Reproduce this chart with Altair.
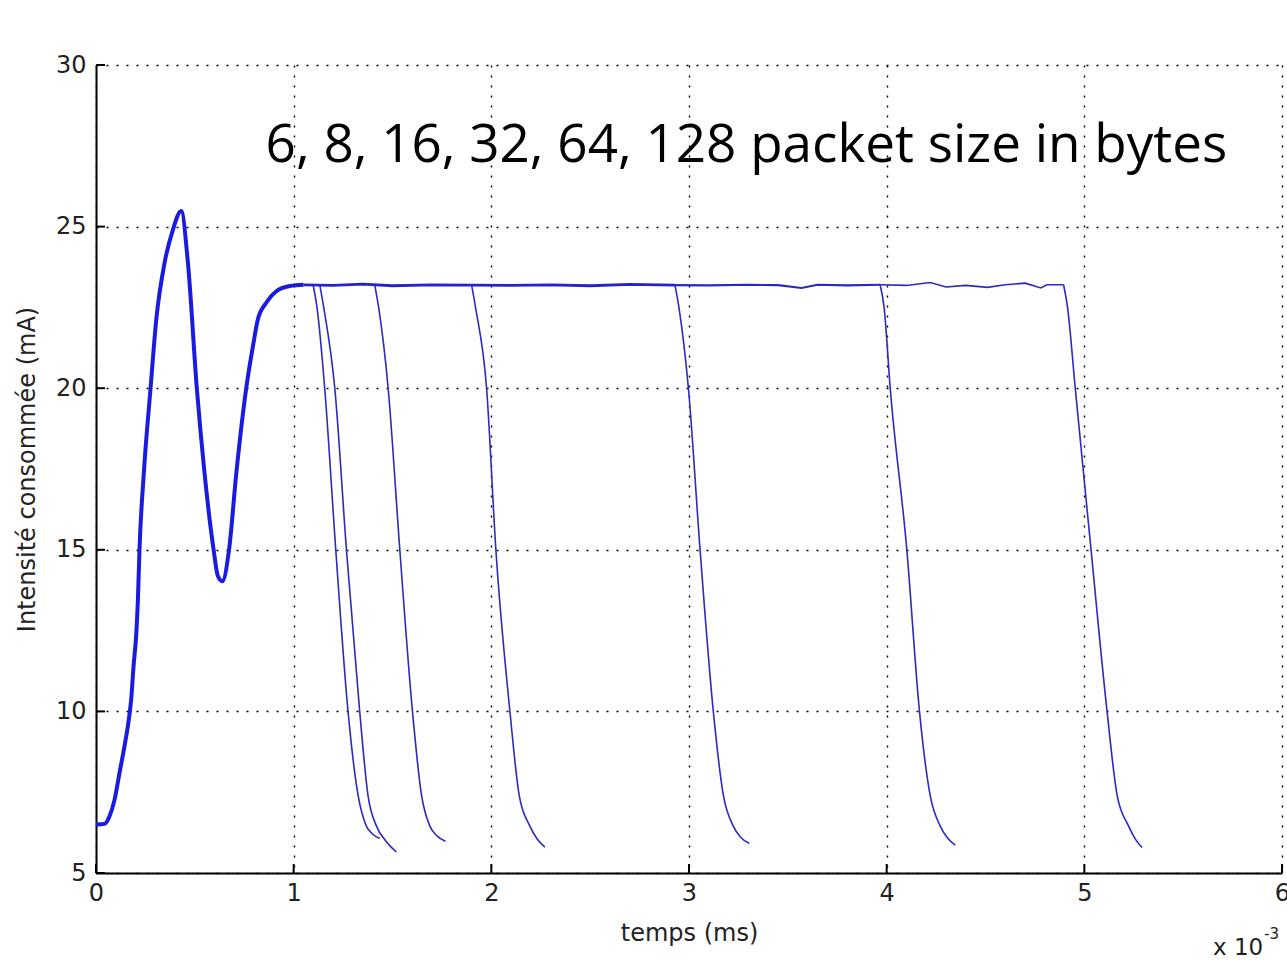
import altair as alt
import pandas as pd

# ---- data (time in ms, current in mA) ----
rise_t = [0.000, 0.043, 0.068, 0.094, 0.119, 0.144, 0.166, 0.178, 0.190, 0.204,
          0.212, 0.220, 0.242, 0.276, 0.305, 0.347, 0.389, 0.431, 0.465, 0.510,
          0.549, 0.595, 0.617, 0.639, 0.673, 0.710, 0.760, 0.794, 0.819, 0.862,
          0.912, 0.980, 1.050]
rise_i = [6.50, 6.52, 6.75, 7.27, 8.10, 8.92, 9.75, 10.37, 11.40, 12.43,
          13.46, 15.00, 17.38, 20.00, 22.13, 23.88, 24.90, 25.48, 23.88, 20.00,
          17.38, 15.00, 14.18, 14.03, 15.00, 17.38, 20.00, 21.30, 22.13, 22.65,
          23.00, 23.16, 23.20]

plateau_t = [1.05, 1.20, 1.35, 1.50, 1.70, 1.90, 2.10, 2.30, 2.50, 2.70, 2.93,
             3.10, 3.30, 3.45, 3.57, 3.65, 3.80, 3.97,
             4.10, 4.22, 4.30, 4.40, 4.51, 4.60, 4.70, 4.78, 4.81, 4.895]
plateau_i = [23.20, 23.18, 23.22, 23.17, 23.20, 23.19, 23.18, 23.20, 23.17, 23.21, 23.19,
             23.18, 23.20, 23.19, 23.10, 23.20, 23.18, 23.20,
             23.18, 23.27, 23.13, 23.18, 23.12, 23.20, 23.25, 23.10, 23.20, 23.20]
plateau_breaks = [2.93, 3.97]

drop_names = ["c1", "c2", "c3", "c4", "c5", "c6", "c7"]
drop_t = [
    [1.098, 1.118, 1.157, 1.213, 1.275, 1.326, 1.368, 1.400, 1.435],
    [1.132, 1.152, 1.208, 1.267, 1.334, 1.376, 1.419, 1.465, 1.520],
    [1.410, 1.430, 1.478, 1.537, 1.601, 1.647, 1.689, 1.725, 1.768],
    [1.900, 1.920, 1.976, 2.023, 2.094, 2.141, 2.195, 2.232, 2.271],
    [2.929, 2.949, 2.997, 3.056, 3.123, 3.174, 3.224, 3.262, 3.305],
    [3.967, 3.987, 4.018, 4.102, 4.166, 4.220, 4.271, 4.308, 4.347],
    [4.895, 4.915, 4.954, 5.034, 5.115, 5.166, 5.224, 5.258, 5.292],
]
drop_i = [
    [23.2, 22.5, 20.0, 15.0, 10.0, 7.4, 6.45, 6.20, 6.07],
    [23.2, 22.5, 20.0, 15.0, 10.0, 7.4, 6.45, 6.00, 5.65],
    [23.2, 22.5, 20.0, 15.0, 10.0, 7.4, 6.45, 6.15, 5.98],
    [23.2, 22.5, 20.0, 15.0, 10.0, 7.4, 6.45, 6.05, 5.80],
    [23.2, 22.5, 20.0, 15.0, 10.0, 7.4, 6.45, 6.10, 5.92],
    [23.2, 22.5, 20.0, 15.0, 10.0, 7.4, 6.45, 6.08, 5.86],
    [23.2, 22.5, 20.0, 15.0, 10.0, 7.4, 6.45, 6.05, 5.79],
]

x_ticks = [0, 1, 2, 3, 4, 5, 6]
y_ticks = [5, 10, 15, 20, 25, 30]
annotation = "6, 8, 16, 32, 64, 128 packet size in bytes"
annotation_t = [0.858]
annotation_i = [26.99]
x_title = "temps (ms)"
y_title = "Intensité consommée (mA)"
exponent_base = "x 10"
exponent_power = "-3"

# ---- build tables ----
rows = []
for t, i in zip(rise_t, rise_i):
    rows.append({"t": t, "I": i, "series": "rise", "kind": "rise"})
seg_edges = [plateau_t[0]] + plateau_breaks + [plateau_t[-1]]
for s in range(len(seg_edges) - 1):
    lo, hi = seg_edges[s], seg_edges[s + 1]
    for t, i in zip(plateau_t, plateau_i):
        if lo <= t <= hi:
            rows.append({"t": t, "I": i, "series": f"p{s}", "kind": f"p{s}"})
for name, ts, vs in zip(drop_names, drop_t, drop_i):
    for t, i in zip(ts, vs):
        rows.append({"t": t, "I": i, "series": name, "kind": "drop"})
lines = pd.DataFrame(rows)

W, H = 1186, 808
xs = alt.Scale(domain=[0, 6], nice=False, zero=False)
ys = alt.Scale(domain=[5, 30], nice=False, zero=False)

axis_font = "DejaVu Sans"
x_axis = alt.Axis(values=x_ticks, format="d", grid=True, gridDash=[2, 8], gridColor="black",
                  gridWidth=1.4, gridOpacity=1, ticks=False, domainColor="black",
                  domainWidth=2, labelFont=axis_font, labelFontSize=24,
                  labelColor="#222222", labelPadding=8, labelFlush=False,
                  title=x_title, titleFont=axis_font, titleFontSize=24,
                  titleFontWeight="normal", titleColor="#222222", titlePadding=16)
y_axis = alt.Axis(values=y_ticks, format="d", grid=True, gridDash=[2, 8], gridColor="black",
                  gridWidth=1.4, gridOpacity=1, ticks=False, domainColor="black",
                  domainWidth=2, labelFont=axis_font, labelFontSize=24,
                  labelColor="#222222", labelPadding=10, labelFlush=False,
                  title=y_title, titleFont=axis_font, titleFontSize=24,
                  titleFontWeight="normal", titleColor="#222222", titlePadding=16)

base = alt.Chart(lines)
enc = dict(x=alt.X("t:Q", scale=xs, axis=x_axis),
           y=alt.Y("I:Q", scale=ys, axis=y_axis),
           detail="series:N", order="t:Q")

drops = base.transform_filter(alt.datum.kind == "drop").mark_line(
    color="#2b2bbd", strokeWidth=1.6, interpolate="monotone").encode(**enc)
p0 = base.transform_filter(alt.datum.kind == "p0").mark_line(
    color="#2424cc", strokeWidth=2.8).encode(**enc)
p1 = base.transform_filter(alt.datum.kind == "p1").mark_line(
    color="#2828c4", strokeWidth=2.1).encode(**enc)
p2 = base.transform_filter(alt.datum.kind == "p2").mark_line(
    color="#2b2bbd", strokeWidth=1.6).encode(**enc)
rise = base.transform_filter(alt.datum.kind == "rise").mark_line(
    color="#1a1ae0", strokeWidth=4, interpolate="monotone").encode(**enc)

xt = alt.Chart(pd.DataFrame({"t": x_ticks})).mark_rule(color="black", strokeWidth=2).encode(
    x=alt.X("t:Q", scale=xs), y=alt.value(H), y2=alt.value(H - 9))
yt = alt.Chart(pd.DataFrame({"I": y_ticks})).mark_rule(color="black", strokeWidth=2).encode(
    y=alt.Y("I:Q", scale=ys), x=alt.value(0), x2=alt.value(9))

ann = alt.Chart(pd.DataFrame({"t": annotation_t, "I": annotation_i, "txt": [annotation]})).mark_text(
    align="left", baseline="alphabetic", font="Open Sans", fontSize=53, color="black").encode(
    x=alt.X("t:Q", scale=xs), y=alt.Y("I:Q", scale=ys), text="txt:N")

expo = alt.Chart(pd.DataFrame({"txt": [exponent_base]})).mark_text(
    align="left", baseline="alphabetic", font=axis_font, fontSize=23, color="#222222").encode(
    x=alt.value(1117), y=alt.value(890), text="txt:N")
expo2 = alt.Chart(pd.DataFrame({"txt": [exponent_power]})).mark_text(
    align="left", baseline="alphabetic", font=axis_font, fontSize=15, color="#222222").encode(
    x=alt.value(1168), y=alt.value(874), text="txt:N")

chart = alt.layer(drops, p2, p1, p0, rise, xt, yt, ann, expo, expo2).properties(
    width=W, height=H,
    autosize=alt.AutoSizeParams(type="none"),
    padding={"left": 96, "top": 65, "right": 5, "bottom": 87},
    background="white",
).configure_view(stroke=None)

chart.save("out.html", embed_options={"renderer": "svg", "actions": False})
